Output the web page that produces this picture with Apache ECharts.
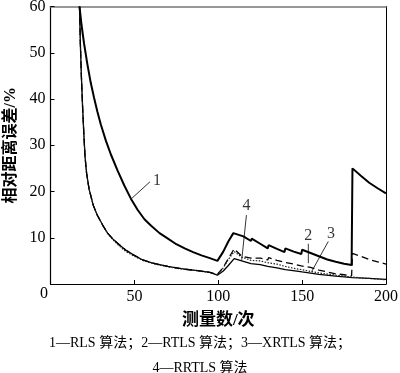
<!DOCTYPE html>
<html>
<head>
<meta charset="utf-8">
<script src="https://cdn.jsdelivr.net/npm/echarts@6/dist/echarts.min.js"></script>
<style>html,body{margin:0;padding:0;background:#fff}#c{width:400px;height:373px}</style>
</head>
<body>
<div id="c"></div>
<script>
// ---- data (x = 测量数/次, y = 相对距离误差/%) ----
const xTicks = [0, 50, 100, 150, 200];
const yTicks = [0, 10, 20, 30, 40, 50, 60];
const originLabel = '0';

const rls = [[17.3,60],[18.5,56],[20,52],[22,47.5],[24,43.5],[26,40.2],[28,37.2],[30,34.5],[33,31],[36,28],[40,24.5],[44,21.3],[48,18.4],[52,16.0],[56,14.0],[60,12.6],[65,11.0],[70,9.8],[75,8.6],[80,7.7],[85,6.9],[90,6.2],[95,5.6],[99.5,5.0],[103,7.0],[106,9.2],[109,11.0],[110,11.3],[115,10.3],[119.5,9.3],[120,9.8],[125,8.7],[129.5,7.7],[130,8.4],[135,7.6],[139.5,6.9],[140,7.7],[145,7.0],[149.5,6.5],[150,7.4],[155,6.7],[160,6.0],[165,5.3],[170,4.8],[175,4.4],[179.5,4.1],[180,25.0],[185,23.4],[190,21.9],[195,20.7],[200,19.6]];

const rtls = [[17.3,60],[17.8,52],[18.4,45],[19.2,37.7],[20,31.5],[20.6,27.5],[21.5,24],[23,20.5],[25.5,17.0],[28,14.8],[31,12.8],[34,11.0],[37.5,9.6],[41,8.5],[45,7.3],[50,6.2],[55,5.2],[60,4.6],[65,4.2],[70,3.8],[75,3.5],[80,3.2],[85,3.0],[90,2.8],[95,2.5],[99.5,2.1],[103,3.6],[106,5.5],[109.5,7.6],[114,6.0],[119.5,5.6],[120,6.0],[125,5.6],[129.5,5.2],[130,5.7],[135,5.1],[139.5,4.7],[140,5.1],[145,4.3],[149.5,3.9],[150,4.3],[155,3.6],[160,3.0],[165,2.6],[170,2.2],[175,2.0],[179.5,1.8],[180,6.6],[185,6.0],[190,5.3],[195,4.8],[200,4.3]];

const xrtls = [[17.3,60],[17.8,52],[18.4,45],[19.2,37.7],[20,31.5],[20.6,27.5],[21.5,24],[23,20.5],[25.5,17.0],[28,14.8],[31,12.8],[34,11.0],[37.5,9.5],[41,8.2],[45,7.0],[50,6.0],[55,5.1],[60,4.5],[65,4.1],[70,3.7],[75,3.4],[80,3.2],[85,3.0],[90,2.7],[95,2.5],[99.5,2.0],[103,3.5],[106,5.3],[109.5,7.0],[114,5.8],[119.5,5.1],[120,5.5],[125,5.0],[129.5,4.6],[130,5.0],[135,4.3],[140,3.8],[145,3.4],[150,3.1],[155,2.7],[160,2.4],[170,1.9],[180,1.5],[190,1.2],[200,0.9]];

const rrtls = [[17.3,60],[17.8,52],[18.4,45],[19.2,37.7],[20,31.5],[20.6,27.5],[21.5,24],[23,20.5],[25.5,17.0],[28,14.8],[31,12.8],[34,11.0],[37.5,9.6],[41,8.5],[45,7.3],[50,6.2],[55,5.2],[60,4.6],[65,4.2],[70,3.8],[75,3.5],[80,3.2],[85,3.0],[90,2.8],[95,2.5],[99.5,1.9],[103,2.8],[106,4.0],[109.5,5.5],[115,4.9],[119.5,4.4],[120,4.6],[125,4.2],[129.5,3.8],[130,4.0],[135,3.5],[140,3.1],[146.8,2.8],[150,2.6],[160,2.1],[170,1.7],[180,1.4],[190,1.2],[200,1.0]];

// curve labels and their leader lines (data coordinates)
const curveLabels = [['1', 63.5, 22.3], ['4', 116.8, 16.9], ['2', 153.7, 10.5], ['3', 167.2, 10.9]];
const leaders = [
  [[48.4, 18.5], [59.3, 22.1]],
  [[116.8, 14.9], [114.0, 5.2]],
  [[153.7, 8.7], [153.7, 4.5]],
  [[165.6, 9.2], [155.7, 2.7]]
];

const caption = '1—RLS 算法；2—RTLS 算法；3—XRTLS 算法；\n4—RRTLS 算法';
const xName = '测量数/次';
const yName = '相对距离误差/%';

// ---- chart ----
const FONT = "'Liberation Serif', 'Times New Roman', 'Noto Sans CJK SC', serif";
const chart = echarts.init(document.getElementById('c'), null, {renderer: 'canvas'});

const lineSeries = (data, style) => ({
  type: 'line', data: data, showSymbol: false, symbol: 'none', smooth: false,
  lineStyle: Object.assign({color: '#000'}, style), silent: true, z: 3
});

const series = [
  lineSeries(rrtls, {width: 1.3}),
  lineSeries(xrtls, {width: 1.2, type: [1.5, 1.5], color: '#222'}),
  lineSeries(rtls, {width: 1.3, type: [7, 4]}),
  lineSeries(rls, {width: 2})
];
leaders.forEach(l => series.push(lineSeries(l, {width: 0.8})));
series.push({
  type: 'scatter', symbolSize: 0, silent: true,
  data: curveLabels.map(d => ({value: [d[1], d[2]], name: d[0]})),
  label: {show: true, position: 'inside', formatter: p => p.name, color: '#000',
          fontFamily: FONT, fontSize: 16}
});

chart.setOption({
  animation: false,
  backgroundColor: '#fff',
  title: {
    text: caption, left: 'center', top: 326,
    textStyle: {fontFamily: FONT, fontSize: 14, fontWeight: 'normal', color: '#000', lineHeight: 25}
  },
  grid: {left: 50.5, right: 14, top: 6.5, bottom: 89, containLabel: false, outerBoundsMode: 'none'},
  xAxis: [{
    type: 'value', min: xTicks[0], max: xTicks[xTicks.length - 1], interval: 50,
    name: xName, nameLocation: 'middle', nameGap: 28,
    nameTextStyle: {fontFamily: FONT, fontSize: 17, fontWeight: 'bold', color: '#000'},
    axisLine: {show: true, lineStyle: {color: '#000', width: 1.2}},
    axisTick: {show: true, inside: true, length: 4, lineStyle: {color: '#000'}},
    axisLabel: {
      show: true, margin: 5, color: '#000', fontFamily: FONT, fontSize: 16,
      showMaxLabel: true,
      formatter: v => v === 0 ? '' : String(v)
    },
    splitLine: {show: false}
  }, {
    type: 'value', position: 'top', min: 0, max: 200,
    axisLine: {show: true, onZero: false, lineStyle: {color: '#777', width: 1.6}},
    axisTick: {show: false}, axisLabel: {show: false}, splitLine: {show: false}
  }],
  yAxis: [{
    type: 'value', min: yTicks[0], max: yTicks[yTicks.length - 1], interval: 10,
    name: yName, nameLocation: 'middle', nameGap: 28,
    nameTextStyle: {fontFamily: FONT, fontSize: 16, fontWeight: 'bold', color: '#000'},
    axisLine: {show: true, lineStyle: {color: '#000', width: 1.2}},
    axisTick: {show: true, inside: true, length: 4, lineStyle: {color: '#000'}},
    axisLabel: {show: true, margin: 5, color: '#000', fontFamily: FONT, fontSize: 16,
                formatter: v => v === 0 ? '' : String(v)},
    splitLine: {show: false}
  }, {
    type: 'value', position: 'right', min: 0, max: 60,
    axisLine: {show: true, onZero: false, lineStyle: {color: '#000', width: 1}},
    axisTick: {show: false}, axisLabel: {show: false}, splitLine: {show: false}
  }],
  series: series
});

// shared origin label "0", placed just below-left of the axes' origin
const origin = chart.convertToPixel({xAxisIndex: 0, yAxisIndex: 0}, [xTicks[0], yTicks[0]]);
chart.setOption({
  graphic: [{
    type: 'text', x: origin[0] - 6.5, y: origin[1] + 9.5, silent: true,
    style: {text: originLabel, fontFamily: FONT, fontSize: 16, fill: '#000',
            align: 'center', verticalAlign: 'middle'}
  }]
});
</script>
</body>
</html>
